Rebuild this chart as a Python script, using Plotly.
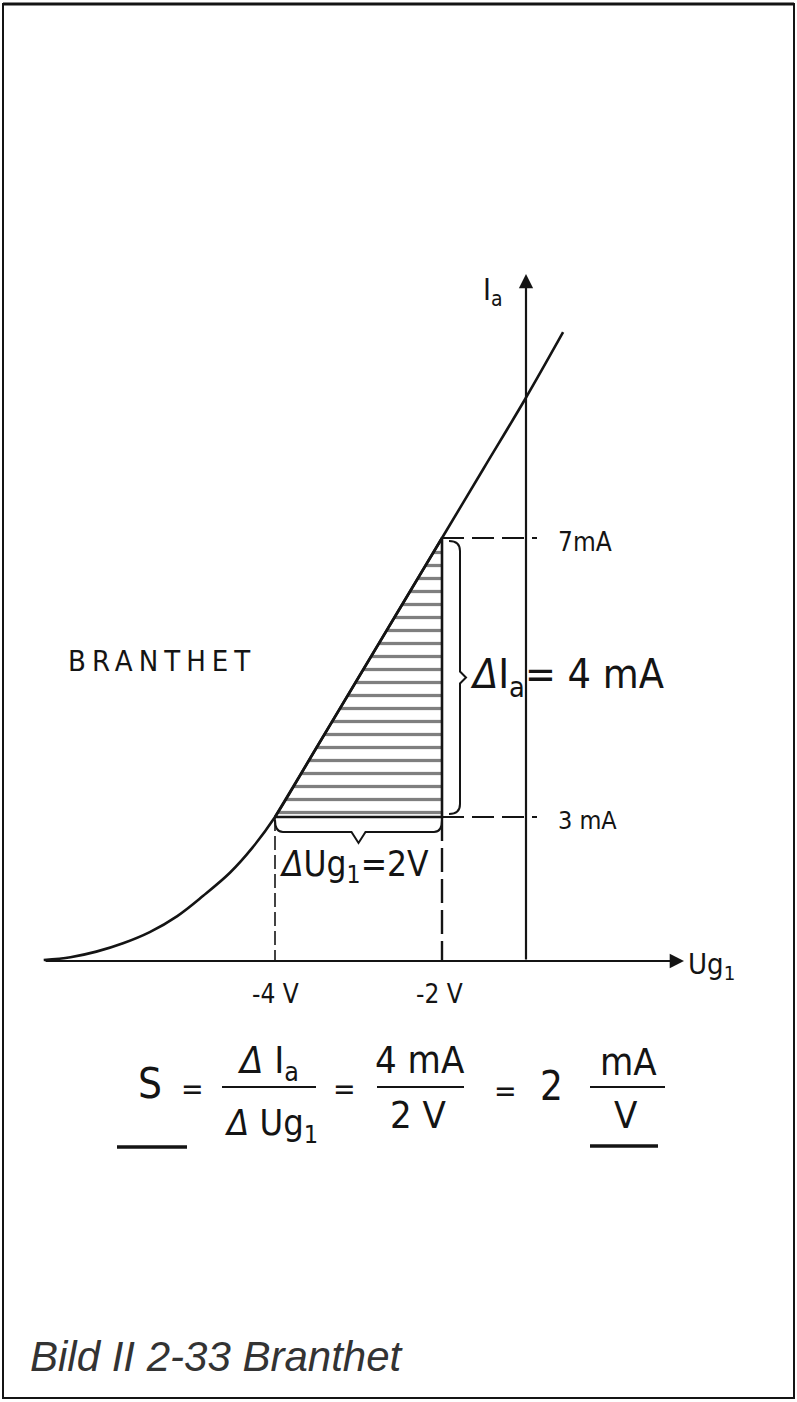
import plotly.graph_objects as go

# ---------------- data ----------------
# transfer characteristic Ia = f(Ug1)   (Ug1 in V, Ia in mA)
ug_curve = [-6.77, -6.45, -6.14, -5.82, -5.50, -5.17, -4.86, -4.54, -4.27, -4.0,
            -3.5, -3.0, -2.5, -2.0, -1.5, -1.0, -0.55]
ia_curve = [0.95, 0.99, 1.07, 1.19, 1.35, 1.58, 1.87, 2.20, 2.56, 3.0,
            4.0, 5.0, 6.0, 7.0, 8.0, 9.0, 9.95]

# operating points used for the slope triangle
ug_points = [-4, -2]            # V
ia_points = [3, 7]              # mA
ug_tick_labels = ["-4 V", "-2 V"]
ia_tick_labels = ["3 mA", "7mA"]
delta_ia = ia_points[1] - ia_points[0]   # 4 mA
delta_ug = ug_points[1] - ug_points[0]   # 2 V
slope = delta_ia / delta_ug              # 2 mA/V

# ---------------- layout geometry ----------------
W, H = 797, 1402
KX, KY = 83.5, 69.75                # px per V, px per mA
X0 = ug_points[0] - 275 / KX
X1 = X0 + W / KX
Y1 = ia_points[0] + 817 / KY
Y0 = Y1 - H / KY

def dx(p):   # pixel column -> data x
    return X0 + p / KX

def dy(p):   # pixel row -> data y
    return Y1 - p / KY

def pp(x, y):  # pixel -> paper
    return x / W, 1 - y / H

AX_X = dx(526)      # where the drawn Ia axis stands
AX_Y = dy(961)      # where the drawn Ug1 axis stands
INK = "#141414"
FONT = "DejaVu Sans Condensed, DejaVu Sans, sans-serif"

fig = go.Figure()

# hatched slope triangle
fig.add_trace(go.Scatter(
    x=[ug_points[0], ug_points[1], ug_points[1], ug_points[0]],
    y=[ia_points[0], ia_points[1], ia_points[0], ia_points[0]],
    mode="lines", fill="toself",
    fillcolor="rgba(255,255,255,0)",
    fillpattern=dict(shape="-", size=13, solidity=0.25, fgcolor="#000000", bgcolor="white"),
    line=dict(color=INK, width=2.6),
    hoverinfo="skip", showlegend=False))

# dashed helper lines
fig.add_trace(go.Scatter(x=[ug_points[0], ug_points[0]], y=[ia_points[0], AX_Y], mode="lines",
                         line=dict(color=INK, width=1.6, dash="14px,5px"), showlegend=False, hoverinfo="skip"))
fig.add_trace(go.Scatter(x=[ug_points[1], ug_points[1]], y=[ia_points[0], AX_Y], mode="lines",
                         line=dict(color=INK, width=2.4, dash="24px,7px"), showlegend=False, hoverinfo="skip"))
for ia in ia_points:
    fig.add_trace(go.Scatter(x=[ug_points[1], dx(537)], y=[ia, ia], mode="lines",
                             line=dict(color=INK, width=1.8, dash="22px,8px"), showlegend=False, hoverinfo="skip"))

# characteristic curve
fig.add_trace(go.Scatter(x=ug_curve, y=ia_curve, mode="lines",
                         line=dict(color=INK, width=2.6, shape="spline", smoothing=1.0),
                         showlegend=False, hoverinfo="skip"))

# axes with arrows
fig.add_annotation(x=dx(684), y=AX_Y, ax=dx(44), ay=AX_Y, xref="x", yref="y", axref="x", ayref="y",
                   text="", showarrow=True, arrowhead=2, arrowsize=1.3, arrowwidth=2.2, arrowcolor=INK)
fig.add_annotation(x=AX_X, y=dy(274), ax=AX_X, ay=AX_Y, xref="x", yref="y", axref="x", ayref="y",
                   text="", showarrow=True, arrowhead=2, arrowsize=1.3, arrowwidth=2.2, arrowcolor=INK)

# braces
def vbrace(x, ylo, yhi, w, tip, hk, t):
    ym = (ylo + yhi) / 2
    return (f"M {x},{yhi} Q {x + w},{yhi} {x + w},{yhi - hk} L {x + w},{ym + t} "
            f"L {x + w + tip},{ym} L {x + w},{ym - t} L {x + w},{ylo + hk} Q {x + w},{ylo} {x},{ylo}")

def hbrace(xlo, xhi, y, d, tip, hw, tw):
    xm = (xlo + xhi) / 2
    return (f"M {xlo},{y} Q {xlo},{y - d} {xlo + hw},{y - d} L {xm - tw},{y - d} "
            f"L {xm},{y - d - tip} L {xm + tw},{y - d} L {xhi - hw},{y - d} Q {xhi},{y - d} {xhi},{y}")

fig.add_shape(type="path", xref="x", yref="y",
              path=vbrace(ug_points[1] + 7 / KX, ia_points[0] + 3 / KY, ia_points[1] - 3 / KY,
                          11 / KX, 6 / KX, 10 / KY, 6 / KY),
              line=dict(color=INK, width=2))
fig.add_shape(type="path", xref="x", yref="y",
              path=hbrace(ug_points[0], ug_points[1], ia_points[0] - 3 / KY,
                          12 / KY, 11 / KY, 8 / KX, 7 / KX),
              line=dict(color=INK, width=2))

# ---------------- texts ----------------
def txt(s, x, y, size, xa="left", ya="middle", color=INK, family=FONT):
    px_, py_ = pp(x, y)
    fig.add_annotation(x=px_, y=py_, xref="paper", yref="paper", text=s, showarrow=False,
                       xanchor=xa, yanchor=ya, font=dict(family=family, size=size, color=color))

txt("I<sub>a</sub>", 481, 292, 30)
txt("Ug<sub>1</sub>", 686, 966, 29)
txt(ia_tick_labels[1], 556, 542, 26)
txt(ia_tick_labels[0], 556, 820, 25)
txt(ug_tick_labels[0], 275, 994, 26, xa="center")
txt(ug_tick_labels[1], 439, 994, 26, xa="center")
txt('<span style="letter-spacing:6px">BRANTHET</span>', 66, 661, 29)
txt(f"<i>Δ</i>I<sub>a</sub>= {delta_ia} mA", 468, 677, 41)
txt(f"<i>Δ</i>Ug<sub>1</sub>={delta_ug}V", 278, 866, 35)

# formula
FS = 38
txt("S", 150, 1083, 42, xa="center")
txt("=", 192, 1088, 30, xa="center")
txt("<i>Δ</i> I<sub>a</sub>", 268, 1062, FS, xa="center")
txt("<i>Δ</i> Ug<sub>1</sub>", 271, 1125, 36, xa="center")
txt("=", 344, 1088, 30, xa="center")
txt(f"{delta_ia} mA", 420, 1060, FS, xa="center")
txt(f"{delta_ug} V", 418, 1115, FS, xa="center")
txt("=", 505, 1090, 30, xa="center")
txt(f"{slope:g}", 551, 1086, FS + 2, xa="center")
txt("mA", 628, 1062, FS, xa="center")
txt("V", 626, 1115, FS, xa="center")

def hline(x0, x1, y, w):
    a, b = pp(x0, y)
    c, _ = pp(x1, y)
    fig.add_shape(type="line", xref="paper", yref="paper", x0=a, x1=c, y0=b, y1=b,
                  line=dict(color=INK, width=w))

hline(222, 316, 1087, 2)
hline(377, 464, 1087, 2)
hline(590, 665, 1087, 2)
hline(117, 187, 1147, 3.5)
hline(590, 658, 1146, 3.5)

# caption
txt("<i>Bild II 2-33 Branthet</i>", 28, 1356, 42, color="#333333",
    family="Liberation Sans, Arial, sans-serif")

# frame
a, b = pp(3, 4)
c, d = pp(794, 1398)
fig.add_shape(type="rect", xref="paper", yref="paper", x0=a, y0=d, x1=c, y1=b,
              line=dict(color=INK, width=2))
hline(3, 794, 4, 3)

fig.update_layout(
    width=W, height=H, margin=dict(l=0, r=0, t=0, b=0),
    paper_bgcolor="white", plot_bgcolor="white", showlegend=False,
    xaxis=dict(range=[X0, X1], visible=False, fixedrange=True),
    yaxis=dict(range=[Y0, Y1], visible=False, fixedrange=True),
)

fig.write_html("out.html", config={"displayModeBar": False},
               post_script="document.body.style.margin='0';")
